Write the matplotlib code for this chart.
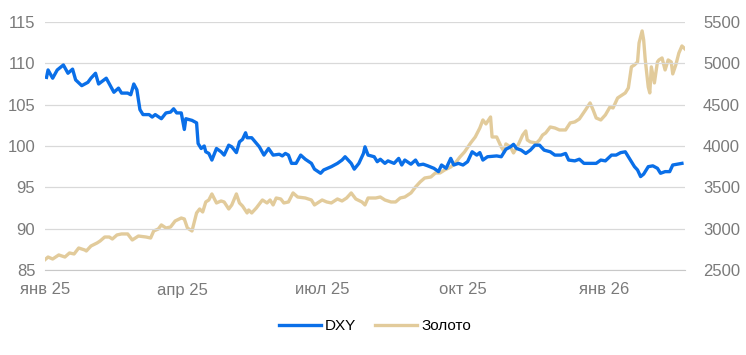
import pandas as pd
import matplotlib
matplotlib.use("Agg")
import matplotlib.pyplot as plt
from matplotlib.ticker import FixedLocator

plt.rcParams["font.family"] = ["Liberation Sans", "DejaVu Sans"]

# DXY index (left axis)
dxy_dates = [
    "2025-01-02", "2025-01-03", "2025-01-06", "2025-01-09", "2025-01-13", "2025-01-16",
    "2025-01-19", "2025-01-21", "2025-01-25", "2025-01-29", "2025-01-31", "2025-02-03",
    "2025-02-05", "2025-02-10", "2025-02-15", "2025-02-18", "2025-02-20", "2025-02-24",
    "2025-02-26", "2025-02-28", "2025-03-02", "2025-03-04", "2025-03-06", "2025-03-10",
    "2025-03-12", "2025-03-14", "2025-03-18", "2025-03-21", "2025-03-24", "2025-03-26",
    "2025-03-28", "2025-03-31", "2025-04-02", "2025-04-03", "2025-04-07", "2025-04-10",
    "2025-04-11", "2025-04-13", "2025-04-15", "2025-04-16", "2025-04-18", "2025-04-20",
    "2025-04-23", "2025-04-26", "2025-04-28", "2025-05-01", "2025-05-03", "2025-05-06",
    "2025-05-08", "2025-05-10", "2025-05-12", "2025-05-13", "2025-05-16", "2025-05-21",
    "2025-05-24", "2025-05-27", "2025-05-30", "2025-06-03", "2025-06-05", "2025-06-07",
    "2025-06-09", "2025-06-11", "2025-06-14", "2025-06-17", "2025-06-20", "2025-06-24",
    "2025-06-26", "2025-06-30", "2025-07-02", "2025-07-07", "2025-07-11", "2025-07-14",
    "2025-07-16", "2025-07-20", "2025-07-22", "2025-07-25", "2025-07-28", "2025-07-29",
    "2025-07-31", "2025-08-04", "2025-08-06", "2025-08-08", "2025-08-11", "2025-08-13",
    "2025-08-17", "2025-08-20", "2025-08-22", "2025-08-24", "2025-08-28", "2025-08-31",
    "2025-09-02", "2025-09-05", "2025-09-08", "2025-09-12", "2025-09-15", "2025-09-17",
    "2025-09-20", "2025-09-23", "2025-09-25", "2025-09-28", "2025-10-01", "2025-10-04",
    "2025-10-07", "2025-10-10", "2025-10-12", "2025-10-14", "2025-10-17", "2025-10-23",
    "2025-10-26", "2025-10-29", "2025-11-01", "2025-11-03", "2025-11-05", "2025-11-08",
    "2025-11-11", "2025-11-14", "2025-11-17", "2025-11-20", "2025-11-23", "2025-11-27",
    "2025-11-30", "2025-12-04", "2025-12-07", "2025-12-09", "2025-12-13", "2025-12-16",
    "2025-12-19", "2025-12-23", "2025-12-27", "2025-12-30", "2026-01-02", "2026-01-06",
    "2026-01-09", "2026-01-12", "2026-01-15", "2026-01-19", "2026-01-21", "2026-01-23",
    "2026-01-25", "2026-01-27", "2026-01-30", "2026-02-02", "2026-02-05", "2026-02-07",
    "2026-02-10", "2026-02-13", "2026-02-15", "2026-02-18", "2026-02-21",
]
dxy_values = [
    108.3, 109.2, 108.2, 109.2, 109.8, 108.8,
    109.3, 108.0, 107.3, 107.7, 108.2, 108.8,
    107.5, 108.2, 106.5, 107.0, 106.4, 106.4,
    106.2, 107.5, 106.8, 104.4, 103.8, 103.8,
    103.5, 103.8, 103.3, 104.0, 104.1, 104.5,
    104.0, 104.0, 102.0, 103.3, 103.1, 102.8,
    100.3, 99.7, 100.0, 99.3, 99.1, 98.3,
    99.7, 99.3, 98.9, 100.1, 99.9, 99.2,
    100.5, 100.8, 101.6, 101.0, 101.0, 99.9,
    98.9, 99.7, 98.9, 99.0, 98.8, 99.1,
    98.9, 97.9, 97.9, 98.9, 98.4, 97.9,
    97.2, 96.7, 97.1, 97.5, 97.9, 98.3,
    98.7, 97.9, 97.2, 97.9, 99.1, 99.9,
    98.9, 98.7, 98.1, 98.4, 97.9, 98.2,
    97.9, 98.5, 97.7, 98.3, 97.8, 98.3,
    97.7, 97.8, 97.6, 97.3, 96.9, 97.7,
    97.3, 98.5, 97.7, 97.9, 97.7, 98.1,
    99.3, 98.9, 99.2, 98.3, 98.7, 98.8,
    98.7, 99.6, 99.9, 100.2, 99.7, 99.5,
    99.1, 99.5, 100.1, 100.1, 99.5, 99.3,
    98.9, 98.9, 99.1, 98.3, 98.2, 98.4,
    97.9, 97.9, 97.9, 98.3, 98.2, 98.9,
    98.9, 99.2, 99.3, 98.1, 97.5, 97.1,
    96.3, 96.6, 97.5, 97.6, 97.3, 96.7,
    96.9, 96.9, 97.7, 97.8, 97.9,
]

# gold, USD per ounce (right axis)
gold_dates = [
    "2025-01-01", "2025-01-03", "2025-01-06", "2025-01-10", "2025-01-14", "2025-01-17",
    "2025-01-20", "2025-01-23", "2025-01-27", "2025-01-28", "2025-01-31", "2025-02-04",
    "2025-02-06", "2025-02-09", "2025-02-12", "2025-02-14", "2025-02-17", "2025-02-20",
    "2025-02-24", "2025-02-27", "2025-03-03", "2025-03-08", "2025-03-11", "2025-03-13",
    "2025-03-16", "2025-03-18", "2025-03-21", "2025-03-24", "2025-03-27", "2025-03-31",
    "2025-04-02", "2025-04-04", "2025-04-07", "2025-04-10", "2025-04-12", "2025-04-14",
    "2025-04-16", "2025-04-18", "2025-04-20", "2025-04-23", "2025-04-26", "2025-04-28",
    "2025-05-01", "2025-05-03", "2025-05-06", "2025-05-08", "2025-05-10", "2025-05-13",
    "2025-05-14", "2025-05-16", "2025-05-19", "2025-05-23", "2025-05-26", "2025-05-28",
    "2025-05-30", "2025-06-01", "2025-06-04", "2025-06-06", "2025-06-09", "2025-06-12",
    "2025-06-15", "2025-06-20", "2025-06-24", "2025-06-26", "2025-06-28", "2025-07-01",
    "2025-07-04", "2025-07-07", "2025-07-11", "2025-07-14", "2025-07-17", "2025-07-20",
    "2025-07-23", "2025-07-27", "2025-07-29", "2025-07-31", "2025-08-05", "2025-08-08",
    "2025-08-11", "2025-08-15", "2025-08-18", "2025-08-21", "2025-08-24", "2025-08-28",
    "2025-08-31", "2025-09-03", "2025-09-06", "2025-09-10", "2025-09-13", "2025-09-16",
    "2025-09-19", "2025-09-23", "2025-09-26", "2025-09-29", "2025-10-02", "2025-10-06",
    "2025-10-09", "2025-10-12", "2025-10-14", "2025-10-16", "2025-10-19", "2025-10-20",
    "2025-10-23", "2025-10-26", "2025-10-28", "2025-10-29", "2025-11-01", "2025-11-03",
    "2025-11-06", "2025-11-09", "2025-11-11", "2025-11-12", "2025-11-14", "2025-11-18",
    "2025-11-20", "2025-11-22", "2025-11-24", "2025-11-27", "2025-11-30", "2025-12-03",
    "2025-12-07", "2025-12-10", "2025-12-13", "2025-12-16", "2025-12-20", "2025-12-23",
    "2025-12-25", "2025-12-27", "2025-12-30", "2026-01-02", "2026-01-05", "2026-01-07",
    "2026-01-10", "2026-01-12", "2026-01-15", "2026-01-17", "2026-01-19", "2026-01-21",
    "2026-01-23", "2026-01-24", "2026-01-26", "2026-01-27", "2026-01-28", "2026-01-30",
    "2026-01-31", "2026-02-01", "2026-02-03", "2026-02-05", "2026-02-06", "2026-02-08",
    "2026-02-10", "2026-02-12", "2026-02-14", "2026-02-15", "2026-02-17", "2026-02-19",
    "2026-02-21", "2026-02-23",
]
gold_values = [
    2625, 2657, 2633, 2682, 2657, 2706,
    2694, 2766, 2742, 2730, 2790, 2827,
    2851, 2899, 2899, 2875, 2924, 2936,
    2936, 2863, 2911, 2899, 2887, 2972,
    2996, 3045, 3008, 3020, 3093, 3129,
    3117, 3008, 2972, 3190, 3238, 3202,
    3323, 3347, 3420, 3311, 3335, 3323,
    3238, 3287, 3420, 3311, 3274, 3190,
    3226, 3190, 3250, 3347, 3311, 3347,
    3287, 3371, 3359, 3311, 3323, 3432,
    3383, 3371, 3347, 3287, 3311, 3347,
    3323, 3311, 3359, 3335, 3371, 3432,
    3359, 3323, 3287, 3371, 3371, 3383,
    3347, 3323, 3323, 3371, 3383, 3432,
    3504, 3565, 3613, 3625, 3674, 3674,
    3710, 3746, 3795, 3867, 3928, 4037,
    4109, 4218, 4315, 4267, 4351, 4109,
    4109, 3988, 3928, 4025, 3988, 3916,
    4012, 4133, 4182, 4073, 4049, 4037,
    4073, 4133, 4158, 4230, 4218, 4194,
    4194, 4279, 4291, 4327, 4436, 4521,
    4436, 4339, 4315, 4376, 4472, 4460,
    4581, 4605, 4642, 4702, 4957, 4981,
    5017, 5247, 5392, 5283, 5050, 4714,
    4642, 4957, 4763, 5017, 5041, 5065,
    4920, 5041, 5017, 4872, 4981, 5125,
    5210, 5174,
]

month_ticks = ["2025-01-01", "2025-04-01", "2025-07-01", "2025-10-01", "2026-01-01"]
month_labels = ["янв 25", "апр 25", "июл 25", "окт 25", "янв 26"]
left_ticks = [85, 90, 95, 100, 105, 110, 115]
right_ticks = [2500, 3000, 3500, 4000, 4500, 5000, 5500]

dxy_color = "#0a6fe8"
gold_color = "#e2cb9b"
label_color = "#7a7a7a"

fig = plt.figure(figsize=(7.46, 3.55), dpi=100)
ax = fig.add_axes([45 / 746, 85 / 355, 640 / 746, 248 / 355])
ax2 = ax.twinx()

ax.set_zorder(ax2.get_zorder() + 1)
ax.patch.set_visible(False)

ax2.plot(pd.to_datetime(gold_dates), gold_values, color=gold_color, lw=2.4,
         solid_joinstyle="round", label="Золото")
ax.plot(pd.to_datetime(dxy_dates), dxy_values, color=dxy_color, lw=2.4,
        solid_joinstyle="round", label="DXY")

ax.set_xlim(pd.Timestamp("2025-01-01"), pd.Timestamp("2026-02-23"))
ax.set_ylim(85, 115)
ax2.set_ylim(2500, 5500)
ax.yaxis.set_major_locator(FixedLocator(left_ticks))
ax2.yaxis.set_major_locator(FixedLocator(right_ticks))
ax.set_xticks(pd.to_datetime(month_ticks))
ax.set_xticklabels(month_labels)

ax2.grid(False)
ax.grid(axis="y", color="#d9d9d9", lw=0.9)
ax.set_axisbelow(True)

for a in (ax, ax2):
    for s in a.spines.values():
        s.set_visible(False)
    a.tick_params(length=0, labelsize=12, labelcolor=label_color)
ax.spines["bottom"].set_visible(True)
ax.spines["bottom"].set_color("#c8c8c8")
ax.tick_params(axis="y", pad=7)
ax.tick_params(axis="x", pad=9)
ax2.tick_params(axis="y", pad=13)

h1, l1 = ax.get_legend_handles_labels()
h2, l2 = ax2.get_legend_handles_labels()
fig.legend(h1 + h2, l1 + l2, loc="center", bbox_to_anchor=(375 / 746, 1 - 326 / 355),
           ncol=2, frameon=False, fontsize=11, handlelength=2.75, handletextpad=0.25,
           columnspacing=1.25)

fig.savefig("out.png", dpi=100)
